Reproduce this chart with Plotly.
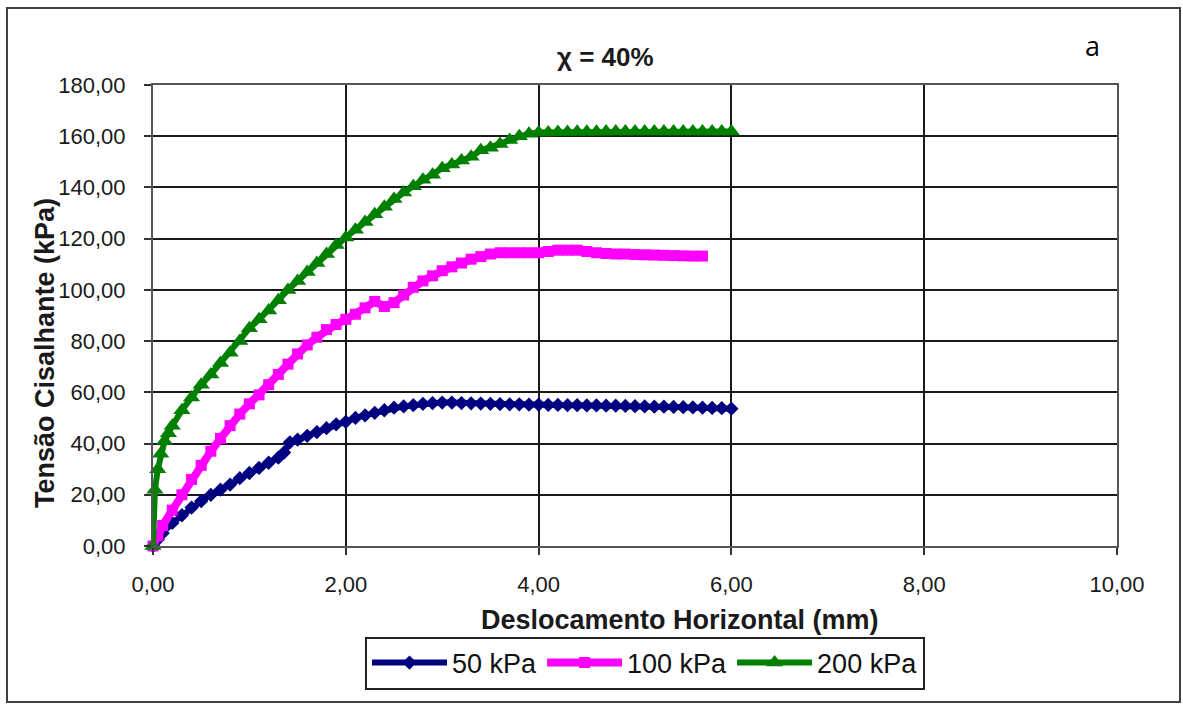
import plotly.graph_objects as go

# ---- data ----
disp_50 = [0.00, 0.05, 0.10, 0.20, 0.30, 0.40, 0.50, 0.60, 0.70, 0.80, 0.90, 1.00,
           1.10, 1.20, 1.30, 1.36, 1.42, 1.50, 1.60, 1.70, 1.80, 1.90, 2.00, 2.10,
           2.20, 2.30, 2.40, 2.50, 2.60, 2.70, 2.80, 2.90, 3.00, 3.10, 3.20, 3.30,
           3.40, 3.50, 3.60, 3.70, 3.80, 3.90, 4.00, 4.10, 4.20, 4.30, 4.40, 4.50,
           4.60, 4.70, 4.80, 4.90, 5.00, 5.10, 5.20, 5.30, 5.40, 5.50, 5.60, 5.70,
           5.80, 5.90, 6.00]
tau_50 = [0.0, 2.5, 5.0, 9.0, 12.0, 15.0, 17.5, 20.0, 22.0, 24.0, 26.5, 28.5,
          30.5, 32.5, 34.5, 36.5, 40.5, 41.5, 43.0, 44.5, 46.0, 47.5, 48.5, 50.0,
          51.0, 52.0, 53.0, 54.0, 54.5, 55.0, 55.5, 55.8, 56.0, 56.0, 55.8, 55.7,
          55.6, 55.5, 55.4, 55.3, 55.3, 55.2, 55.2, 55.1, 55.1, 55.0, 55.0, 54.9,
          54.9, 54.8, 54.8, 54.7, 54.6, 54.5, 54.4, 54.4, 54.3, 54.2, 54.1, 54.0,
          53.9, 53.8, 53.6]

disp_100 = [0.00, 0.05, 0.10, 0.20, 0.30, 0.40, 0.50, 0.60, 0.70, 0.80, 0.90, 1.00,
            1.10, 1.20, 1.30, 1.40, 1.50, 1.60, 1.70, 1.80, 1.90, 2.00, 2.10, 2.20,
            2.30, 2.40, 2.50, 2.60, 2.70, 2.80, 2.90, 3.00, 3.10, 3.20, 3.30, 3.40,
            3.50, 3.60, 3.70, 3.80, 3.90, 4.00, 4.10, 4.20, 4.30, 4.40, 4.50, 4.60,
            4.70, 4.80, 4.90, 5.00, 5.10, 5.20, 5.30, 5.40, 5.50, 5.60, 5.70]
tau_100 = [0.0, 4.0, 8.0, 14.0, 20.0, 26.0, 31.5, 37.0, 42.0, 47.0, 51.5, 55.5,
           59.0, 63.0, 67.0, 71.0, 75.0, 78.5, 81.5, 84.5, 86.5, 88.5, 90.5, 93.0,
           95.5, 93.5, 95.0, 98.0, 101.0, 103.5, 105.5, 107.5, 109.0, 110.5, 112.0, 113.0,
           114.0, 114.5, 114.5, 114.5, 114.5, 114.5, 115.0, 115.5, 115.5, 115.5, 115.0, 114.5,
           114.2, 114.0, 114.0, 113.8, 113.7, 113.6, 113.5, 113.4, 113.3, 113.2, 113.2]

disp_200 = [0.00, 0.02, 0.05, 0.08, 0.12, 0.16, 0.20, 0.30, 0.40, 0.50, 0.60, 0.70,
            0.80, 0.90, 1.00, 1.10, 1.20, 1.30, 1.40, 1.50, 1.60, 1.70, 1.80, 1.90,
            2.00, 2.10, 2.20, 2.30, 2.40, 2.50, 2.60, 2.70, 2.80, 2.90, 3.00, 3.10,
            3.20, 3.30, 3.40, 3.50, 3.60, 3.70, 3.80, 3.90, 4.00, 4.10, 4.20, 4.30,
            4.40, 4.50, 4.60, 4.70, 4.80, 4.90, 5.00, 5.10, 5.20, 5.30, 5.40, 5.50,
            5.60, 5.70, 5.80, 5.90, 6.00]
tau_200 = [0.0, 22.0, 30.0, 36.0, 41.0, 44.0, 47.0, 53.0, 58.0, 63.0, 67.0, 71.5,
           75.5, 80.0, 85.0, 88.5, 92.0, 96.0, 100.0, 103.5, 107.0, 110.5, 114.0, 117.5,
           120.5, 123.5, 126.5, 129.5, 132.5, 135.5, 138.0, 140.5, 143.0, 145.0, 147.5, 149.0,
           150.5, 152.0, 154.5, 155.5, 157.0, 158.5, 160.0, 161.0, 161.5, 161.5, 161.6, 161.6,
           161.7, 161.7, 161.7, 161.8, 161.8, 161.8, 161.8, 161.8, 161.8, 161.8, 161.8, 161.8,
           161.8, 161.8, 161.8, 161.8, 161.8]

series_names = ["50 kPa", "100 kPa", "200 kPa"]
x_ticks = [0, 2, 4, 6, 8, 10]
y_ticks = [0, 20, 40, 60, 80, 100, 120, 140, 160, 180]

title_text = "χ = 40%"
x_title = "Deslocamento Horizontal (mm)"
y_title = "Tensão Cisalhante (kPa)"
panel_label = "a"

fig = go.Figure()
fig.add_trace(go.Scatter(
    x=disp_50, y=tau_50, name=series_names[0], mode="lines+markers",
    line=dict(color="#000080", width=6),
    marker=dict(symbol="diamond", size=11, color="#000080"),
    cliponaxis=False))
fig.add_trace(go.Scatter(
    x=disp_100, y=tau_100, name=series_names[1], mode="lines+markers",
    line=dict(color="#FF00FF", width=8),
    marker=dict(symbol="square", size=11, color="#FF00FF"),
    cliponaxis=False))
fig.add_trace(go.Scatter(
    x=disp_200, y=tau_200, name=series_names[2], mode="lines+markers",
    line=dict(color="#008000", width=6),
    marker=dict(symbol="triangle-up", size=15, color="#008000"),
    cliponaxis=False))

tick_font = dict(family="Liberation Sans, Arial, sans-serif", size=22, color="#1a1a1a")

fig.update_xaxes(
    range=[0, 10], tickvals=x_ticks, tickformat=".2f",
    showgrid=True, gridcolor="#1a1a1a", gridwidth=1.5,
    showline=True, linecolor="#555555", linewidth=2, mirror=True,
    ticks="outside", ticklen=7, tickcolor="#333333", tickwidth=1.5,
    tickfont=tick_font, ticklabelstandoff=11, zeroline=False)
fig.update_yaxes(
    range=[0, 180], tickvals=y_ticks, tickformat=".2f",
    showgrid=True, gridcolor="#1a1a1a", gridwidth=1.5,
    showline=True, linecolor="#555555", linewidth=2, mirror=True,
    ticks="outside", ticklen=7, tickcolor="#333333", tickwidth=1.5,
    tickfont=tick_font, ticklabelstandoff=14, zeroline=False)

L, R, T, B = 153, 66, 85, 161
W, H = 1183, 707
pw, ph = W - L - R, H - T - B

def px(x):
    return (x - L) / pw

def py(y):
    return (H - B - y) / ph

def label(text, x, y, size, family="Liberation Sans, Arial", angle=0, color="#1a1a1a"):
    fig.add_annotation(text=text, x=px(x), y=py(y), xref="paper", yref="paper",
                       xanchor="center", yanchor="middle", showarrow=False,
                       textangle=angle, font=dict(family=family, size=size, color=color))

label("<b>" + title_text + "</b>", 605, 57, 26)
label("<b>" + x_title + "</b>", 680, 620, 27)
label("<b>" + y_title + "</b>", 45, 353, 27, angle=-90)
label(panel_label, 1092, 46, 27, family="Open Sans, Noto Sans", color="#000000")

fig.add_shape(type="rect", xref="paper", yref="paper",
              x0=px(7), x1=px(1180), y0=py(702), y1=py(8),
              line=dict(color="#404040", width=2), layer="below")

fig.update_layout(
    width=W, height=H,
    margin=dict(l=L, r=R, t=T, b=B, autoexpand=False),
    paper_bgcolor="white", plot_bgcolor="white",
    separators=",.",
    showlegend=True,
    legend=dict(orientation="h", x=px(645), y=py(663), xanchor="center", yanchor="middle",
                bordercolor="#222222", borderwidth=2, bgcolor="white",
                font=dict(family="Liberation Sans, Arial", size=27, color="#111111"),
                itemwidth=75, tracegroupgap=0),
)

fig.write_html("out.html")
